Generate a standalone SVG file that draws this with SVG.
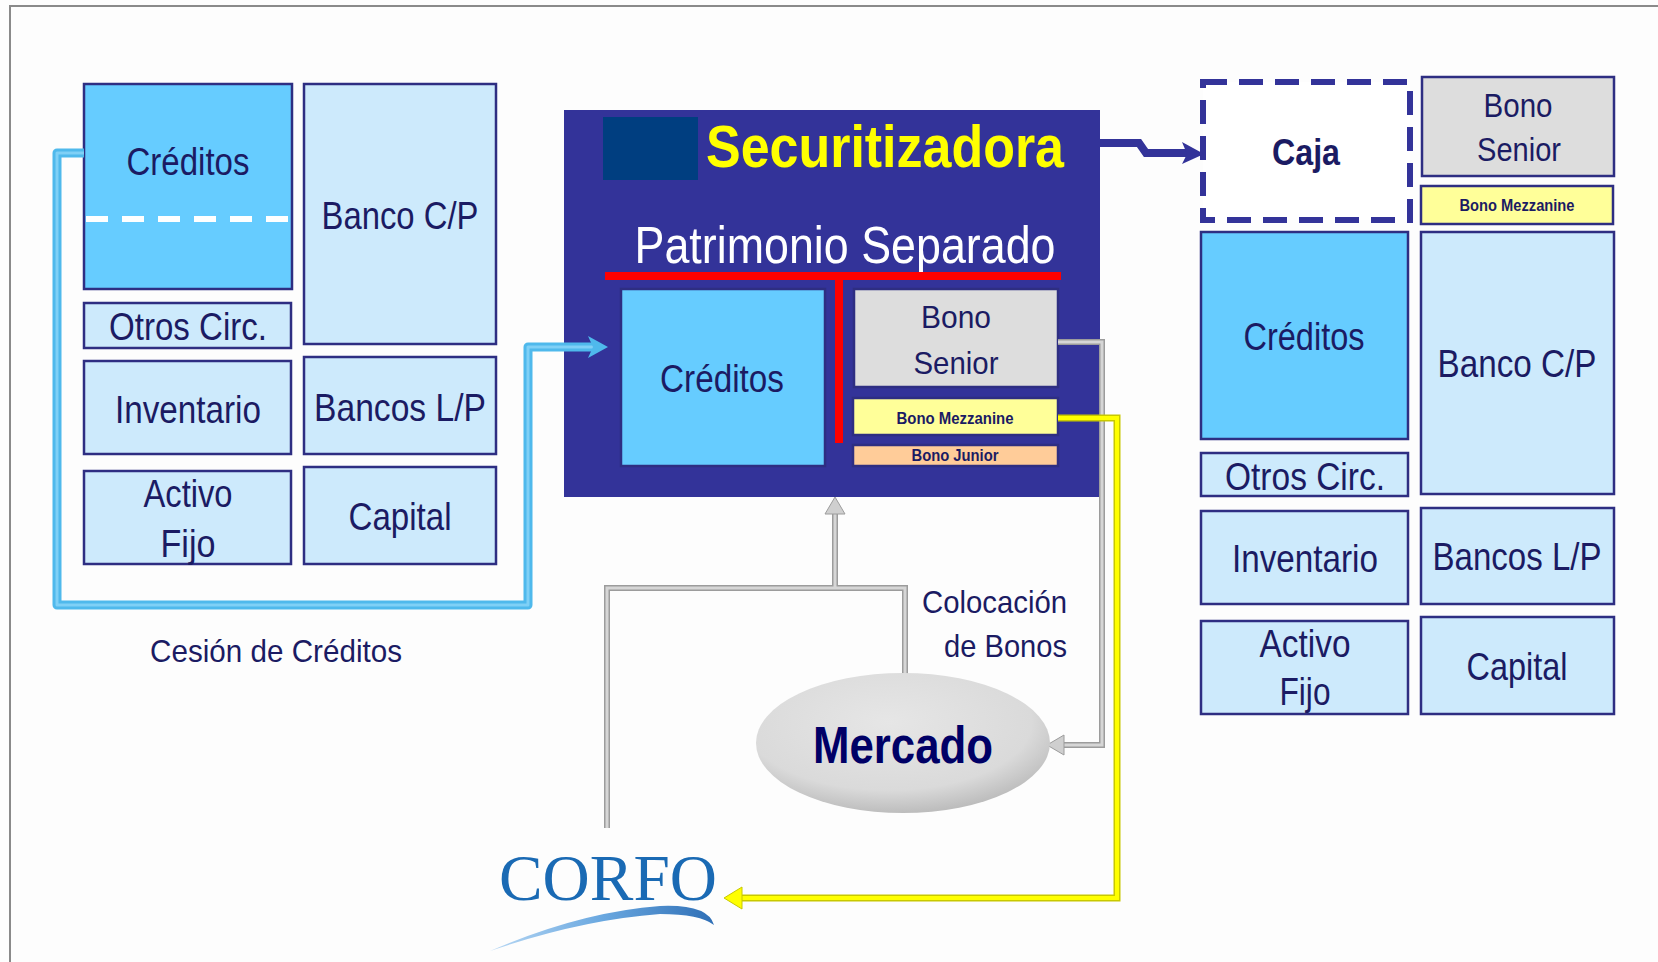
<svg xmlns="http://www.w3.org/2000/svg" width="1658" height="962" viewBox="0 0 1658 962">
<defs>
<style>
.box{stroke:#2e2e82;stroke-width:2.5}
.lb{fill:#cdeafc}
.cr{fill:#66ccff}
.gr{fill:#dddddd}
.ye{fill:#ffff99}
.or{fill:#ffcc99}
.t{font-family:"Liberation Sans Narrow","Liberation Sans",Arial,sans-serif;fill:#1b1b63;text-anchor:middle}
.b{font-weight:bold}
.gl1{fill:none;stroke:#9c9c9c;stroke-width:6}
.gl2{fill:none;stroke:#d6d6d6;stroke-width:3}
.ah{fill:#cfcfcf;stroke:#9c9c9c;stroke-width:1}
</style>
<radialGradient id="mg" cx="0.45" cy="0.35" r="0.65">
<stop offset="0" stop-color="#e6e6e6"/>
<stop offset="0.75" stop-color="#dadada"/>
<stop offset="1" stop-color="#bdbdbd"/>
</radialGradient>
<linearGradient id="sw" x1="0" y1="0" x2="1" y2="0">
<stop offset="0" stop-color="#b8d8f4"/>
<stop offset="0.5" stop-color="#6aa8e0"/>
<stop offset="1" stop-color="#2f6fb6"/>
</linearGradient>
</defs>
<rect x="0" y="0" width="1658" height="962" fill="#fdfdfd"/>
<path d="M10,970 V6 H1670" fill="none" stroke="#8a8a8a" stroke-width="2"/>

<g id="left-balance">
<g id="l-creditos"><rect class="box cr" x="84" y="84" width="208" height="205"/>
<line x1="86" y1="219" x2="290" y2="219" stroke="#ffffff" stroke-width="6" stroke-dasharray="22 14"/>
<text class="t" x="188" y="175" font-size="39" textLength="123" lengthAdjust="spacingAndGlyphs">Créditos</text></g>
<g id="l-bancocp"><rect class="box lb" x="304" y="84" width="192" height="260"/>
<text class="t" x="400" y="229" font-size="39" textLength="157" lengthAdjust="spacingAndGlyphs">Banco C/P</text></g>
<g id="l-otros"><rect class="box lb" x="84" y="303" width="207" height="45"/>
<text class="t" x="188" y="340" font-size="38" textLength="158" lengthAdjust="spacingAndGlyphs">Otros Circ.</text></g>
<g id="l-inventario"><rect class="box lb" x="84" y="361" width="207" height="93"/>
<text class="t" x="188" y="423" font-size="39" textLength="146" lengthAdjust="spacingAndGlyphs">Inventario</text></g>
<g id="l-bancoslp"><rect class="box lb" x="304" y="357" width="192" height="97"/>
<text class="t" x="400" y="421" font-size="39" textLength="172" lengthAdjust="spacingAndGlyphs">Bancos L/P</text></g>
<g id="l-activo"><rect class="box lb" x="84" y="471" width="207" height="93"/>
<text class="t" x="188" y="507" font-size="38" textLength="89" lengthAdjust="spacingAndGlyphs">Activo</text>
<text class="t" x="188" y="557" font-size="38" textLength="55" lengthAdjust="spacingAndGlyphs">Fijo</text></g>
<g id="l-capital"><rect class="box lb" x="304" y="467" width="192" height="97"/>
<text class="t" x="400" y="530" font-size="39" textLength="103" lengthAdjust="spacingAndGlyphs">Capital</text></g>
</g>

<g id="cesion-label"><text class="t" x="276" y="662" font-size="32" textLength="252" lengthAdjust="spacingAndGlyphs">Cesión de Créditos</text></g>

<g id="securitizadora">
<rect x="564" y="110" width="536" height="387" fill="#333399"/>
<rect x="603" y="117" width="95" height="63" fill="#003e80"/>
<text x="885" y="167" font-family="'Liberation Sans Narrow','Liberation Sans',Arial,sans-serif" font-weight="bold" font-size="60" fill="#ffff00" text-anchor="middle" textLength="358" lengthAdjust="spacingAndGlyphs">Securitizadora</text>
<text x="845" y="263" font-family="'Liberation Sans Narrow','Liberation Sans',Arial,sans-serif" font-size="52" fill="#ffffff" text-anchor="middle" textLength="421" lengthAdjust="spacingAndGlyphs">Patrimonio Separado</text>
<rect x="605" y="272" width="456" height="8" fill="#ff0000"/>
<rect x="835" y="276" width="8" height="167" fill="#ff0000"/>
<g id="c-creditos"><rect class="box cr" x="621" y="289" width="204" height="177"/>
<text class="t" x="722" y="392" font-size="39" textLength="124" lengthAdjust="spacingAndGlyphs">Créditos</text></g>
<g id="c-senior"><rect class="box gr" x="854" y="289" width="204" height="98"/>
<text class="t" x="956" y="328" font-size="32" textLength="70" lengthAdjust="spacingAndGlyphs">Bono</text>
<text class="t" x="956" y="374" font-size="32" textLength="85" lengthAdjust="spacingAndGlyphs">Senior</text></g>
<g id="c-mezz"><rect class="box ye" x="853" y="398" width="205" height="37"/>
<text class="t b" x="955" y="424" font-size="17" textLength="117" lengthAdjust="spacingAndGlyphs">Bono Mezzanine</text></g>
<g id="c-junior"><rect class="box or" x="853" y="445" width="205" height="21"/>
<text class="t b" x="955" y="461" font-size="16" textLength="87" lengthAdjust="spacingAndGlyphs">Bono Junior</text></g>
</g>

<g id="right-balance">
<g id="r-caja"><rect x="1203" y="82" width="207" height="138" fill="#ffffff" stroke="#333399" stroke-width="6" stroke-dasharray="24 12"/>
<text class="t b" x="1306" y="165" font-size="37" textLength="68" lengthAdjust="spacingAndGlyphs">Caja</text></g>
<g id="r-senior"><rect class="box gr" x="1422" y="77" width="192" height="99"/>
<text class="t" x="1518" y="117" font-size="33" textLength="69" lengthAdjust="spacingAndGlyphs">Bono</text>
<text class="t" x="1519" y="161" font-size="33" textLength="84" lengthAdjust="spacingAndGlyphs">Senior</text></g>
<g id="r-mezz"><rect class="box ye" x="1421" y="186" width="192" height="38"/>
<text class="t b" x="1517" y="211" font-size="17" textLength="115" lengthAdjust="spacingAndGlyphs">Bono Mezzanine</text></g>
<g id="r-creditos"><rect class="box cr" x="1201" y="232" width="207" height="207"/>
<text class="t" x="1304" y="350" font-size="39" textLength="121" lengthAdjust="spacingAndGlyphs">Créditos</text></g>
<g id="r-bancocp"><rect class="box lb" x="1421" y="232" width="193" height="262"/>
<text class="t" x="1517" y="377" font-size="39" textLength="159" lengthAdjust="spacingAndGlyphs">Banco C/P</text></g>
<g id="r-otros"><rect class="box lb" x="1201" y="453" width="207" height="43"/>
<text class="t" x="1305" y="490" font-size="38" textLength="160" lengthAdjust="spacingAndGlyphs">Otros Circ.</text></g>
<g id="r-inventario"><rect class="box lb" x="1201" y="511" width="207" height="93"/>
<text class="t" x="1305" y="572" font-size="39" textLength="146" lengthAdjust="spacingAndGlyphs">Inventario</text></g>
<g id="r-bancoslp"><rect class="box lb" x="1421" y="508" width="193" height="96"/>
<text class="t" x="1517" y="570" font-size="39" textLength="169" lengthAdjust="spacingAndGlyphs">Bancos L/P</text></g>
<g id="r-activo"><rect class="box lb" x="1201" y="621" width="207" height="93"/>
<text class="t" x="1305" y="657" font-size="38" textLength="91" lengthAdjust="spacingAndGlyphs">Activo</text>
<text class="t" x="1305" y="705" font-size="38" textLength="51" lengthAdjust="spacingAndGlyphs">Fijo</text></g>
<g id="r-capital"><rect class="box lb" x="1421" y="617" width="193" height="97"/>
<text class="t" x="1517" y="680" font-size="39" textLength="101" lengthAdjust="spacingAndGlyphs">Capital</text></g>
</g>

<g id="connectors">
<path d="M84,153 H57 V605 H528 V347 H594" fill="none" stroke="#4fb9ec" stroke-width="9" stroke-linejoin="round"/>
<path d="M84,153 H57 V605 H528 V347 H594" fill="none" stroke="#7fd0f6" stroke-width="3" stroke-linejoin="round"/>
<polygon points="588,336 608,347 588,358 593,347" fill="#4fb9ec"/>
<path d="M1100,143 H1139 L1146,153 H1190" fill="none" stroke="#333399" stroke-width="8"/>
<polygon points="1182,142 1204,154 1182,164 1187,154" fill="#333399"/>
<path class="gl1" d="M1058,342 H1102 V745 H1062"/>
<path class="gl2" d="M1058,342 H1102 V745 H1062"/>
<polygon class="ah" points="1064,735 1047,745 1064,755"/>
<path d="M1058,418 H1117 V898 H740" fill="none" stroke="#c8c800" stroke-width="7"/>
<path d="M1058,418 H1117 V898 H740" fill="none" stroke="#ffff00" stroke-width="4"/>
<polygon points="742,887 724,898 742,909" fill="#ffff00" stroke="#c8c800" stroke-width="1"/>
<path class="gl1" d="M607,828 V588 H905 V675 M835,588 V512"/>
<path class="gl2" d="M607,828 V588 H905 V675 M835,588 V512"/>
<polygon class="ah" points="825,514 835,497 845,514"/>
</g>

<g id="colocacion-label">
<text class="t" x="1067" y="613" font-size="32" text-anchor="end" style="text-anchor:end" textLength="145" lengthAdjust="spacingAndGlyphs">Colocación</text>
<text class="t" x="1067" y="657" font-size="32" style="text-anchor:end" textLength="123" lengthAdjust="spacingAndGlyphs">de Bonos</text>
</g>

<g id="mercado">
<ellipse cx="903" cy="743" rx="147" ry="70" fill="url(#mg)"/>
<text x="903" y="763" font-family="'Liberation Sans Narrow','Liberation Sans',Arial,sans-serif" font-weight="bold" font-size="52" fill="#000066" text-anchor="middle" textLength="180" lengthAdjust="spacingAndGlyphs">Mercado</text>
</g>

<g id="corfo">
<text x="608" y="900" font-family="'Liberation Serif','Times New Roman',serif" font-size="66" fill="#1a6ab4" text-anchor="middle" textLength="218" lengthAdjust="spacingAndGlyphs">CORFO</text>
<path d="M490,951 Q580,912 660,906 Q708,904 714,925 Q700,914 660,914 Q580,920 490,951 Z" fill="url(#sw)"/>
</g>
</svg>
